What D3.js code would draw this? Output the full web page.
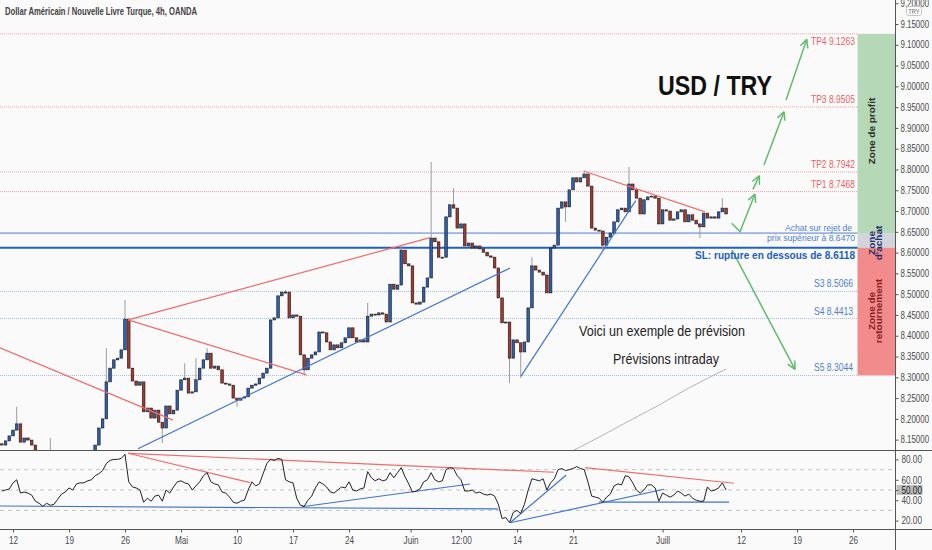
<!DOCTYPE html>
<html lang="fr">
<head>
<meta charset="UTF-8">
<script src="https://d3js.org/d3.v7.min.js"></script>
<title>USD / TRY</title>
<style>
  body { margin: 0; background: #fafafa; }
  text { font-family: "Liberation Sans", Arial, sans-serif; }
</style>
</head>
<body>
<svg id="svg1" width="932" height="550"></svg>
<script>
// 8h bars, 3 per trading day, from Fri 9 Apr to Thu 8 Jul 2021
const firstOpen = 8.140;
const closes = [
  8.137, 8.147, 8.159, 8.173, 8.188, 8.144, 8.154, 8.149, 8.137, 8.120,
  8.106, 8.096, 8.101, 8.113, 8.101, 8.089, 8.082, 8.087, 8.077, 8.082,
  8.089, 8.082, 8.087, 8.096, 8.113, 8.137, 8.178, 8.200, 8.289, 8.322,
  8.342, 8.346, 8.366, 8.440, 8.322, 8.291, 8.281, 8.289, 8.217, 8.226,
  8.202, 8.221, 8.192, 8.178, 8.231, 8.212, 8.221, 8.269, 8.294, 8.298,
  8.262, 8.265, 8.294, 8.322, 8.342, 8.358, 8.322, 8.327, 8.318, 8.286,
  8.284, 8.281, 8.250, 8.245, 8.250, 8.253, 8.274, 8.281, 8.284, 8.298,
  8.310, 8.322, 8.438, 8.443, 8.496, 8.505, 8.505, 8.443, 8.450, 8.447,
  8.354, 8.318, 8.346, 8.354, 8.361, 8.409, 8.407, 8.385, 8.366, 8.378,
  8.371, 8.383, 8.395, 8.419, 8.395, 8.385, 8.390, 8.385, 8.447, 8.452,
  8.450, 8.455, 8.452, 8.433, 8.524, 8.512, 8.522, 8.606, 8.573, 8.568,
  8.479, 8.476, 8.481, 8.517, 8.539, 8.635, 8.626, 8.589, 8.589, 8.686,
  8.715, 8.707, 8.659, 8.669, 8.616, 8.623, 8.611, 8.616, 8.609, 8.601,
  8.592, 8.589, 8.563, 8.491, 8.431, 8.433, 8.346, 8.390, 8.383, 8.361,
  8.385, 8.467, 8.568, 8.558, 8.553, 8.546, 8.503, 8.611, 8.618, 8.707,
  8.722, 8.710, 8.751, 8.780, 8.770, 8.780, 8.789, 8.760, 8.659, 8.654,
  8.652, 8.618, 8.637, 8.647, 8.674, 8.703, 8.707, 8.698, 8.765, 8.751,
  8.731, 8.693, 8.727, 8.734, 8.736, 8.731, 8.669, 8.703, 8.700, 8.678,
  8.681, 8.698, 8.703, 8.674, 8.691, 8.678, 8.669, 8.662, 8.695, 8.683,
  8.686, 8.683, 8.698, 8.707, 8.693
];
// [bar index, price]
const wickHighs = [[4, 8.229], [13, 8.154], [28, 8.370], [33, 8.486], [49, 8.334], [52, 8.346],
  [55, 8.370], [76, 8.510], [98, 8.479], [107, 8.618], [115, 8.818], [121, 8.755], [142, 8.589],
  [156, 8.799], [168, 8.806], [193, 8.731]];
const wickLows = [[43, 8.142], [63, 8.229], [81, 8.305], [136, 8.286], [139, 8.298], [151, 8.674],
  [161, 8.606], [187, 8.635]];
// slow moving average (grey), [bar index, price]
const maPoints = [[148, 8.100], [152, 8.119], [160, 8.156], [168, 8.195], [176, 8.233], [184, 8.274], [194, 8.320]];

const rsiValues = [
  49, 50, 51, 57, 60, 47, 48, 47, 45, 39,
  37, 34, 37, 35, 36, 41, 46, 48, 52, 50,
  56, 57, 57, 59, 60, 64, 66, 69, 76, 79,
  80, 80, 81, 85, 58, 53, 52, 50, 38, 42,
  39, 44, 45, 39, 50, 47, 53, 58, 59, 57,
  56, 50, 54, 58, 64, 67, 58, 56, 55, 48,
  47, 43, 38, 37, 39, 40, 50, 58, 54, 56,
  66, 76, 80, 79, 81, 80, 60, 58, 57, 42,
  35, 34, 40, 44, 52, 58, 56, 53, 48, 47,
  50, 53, 52, 58, 50, 49, 51, 52, 68, 62,
  59, 61, 59, 60, 67, 62, 67, 72, 63, 56,
  48, 49, 51, 58, 60, 67, 60, 58, 59, 70,
  72, 71, 64, 60, 49, 49, 50, 47, 48, 46,
  45, 46, 44, 36, 22, 23, 18, 28, 30, 27,
  36, 50, 61, 60, 59, 61, 50, 57, 61, 70,
  71, 69, 70, 71, 73, 71, 70, 58, 44, 43,
  42, 38, 43, 46, 54, 56, 55, 64, 63, 57,
  50, 47, 50, 55, 55, 52, 39, 47, 45, 43,
  45, 49, 47, 44, 46, 42, 40, 39, 39, 53,
  49, 50, 52, 57, 50
];

const tpPrices = [9.1263, 8.9505, 8.7942, 8.7468];
const tpLabels = ["TP4 9.1263", "TP3 8.9505", "TP2 8.7942", "TP1 8.7468"];
const supportPrices = [8.5066, 8.4413, 8.3044];
const supportLabels = ["S3 8.5066", "S4 8.4413", "S5 8.3044"];
const entryPrice = 8.6470;
const stopPrice = 8.6118;

const priceTicks = [8.15, 8.20, 8.25, 8.30, 8.35, 8.40, 8.45, 8.50, 8.55, 8.60, 8.65, 8.70, 8.75,
  8.80, 8.85, 8.90, 8.95, 9.00, 9.05, 9.10, 9.15, 9.20];
const rsiTicks = [20, 40, 50, 60, 80];
const rsiBands = [70, 50, 30];
// trading day index (0 = 9 Apr)
const dayTicks = [1, 6, 11, 16, 21, 26, 31, 36.5, 41, 46, 51, 59, 66, 71, 76];
const dayLabels = ["12", "19", "26", "Mai", "10", "17", "24", "Juin", "12:00", "14", "21", "Juill", "12", "19", "26"];

// drawings, points as [trading day, price] or [trading day, rsi]
const redLines = [[[-0.16, 8.371], [15.29, 8.197]], [[11.27, 8.438], [38.23, 8.636]],
  [[11.27, 8.438], [27.21, 8.306]], [[52.07, 8.795], [62.79, 8.698]]];
const blueLines = [[[12.16, 8.128], [45.38, 8.563]], [[46.36, 8.303], [56.6, 8.725]]];
const rsiRedLines = [[[11.27, 86], [49.3, 67.4]], [[11.27, 86], [22.16, 57.2]], [[52.07, 71.9], [65.38, 56.6]]];
const rsiBlueLines = [[[-0.16, 34.3], [44.3, 31.4]], [[26.8, 33.6], [41.8, 55.9]], [[45.38, 17.9], [50.4, 64.7]],
  [[45.38, 17.9], [59.13, 50.7]], [[53.32, 38.2], [64.93, 38.2]]];
const arrows = [
  [[65.17, 8.6705], [65.91, 8.6503], [67.25, 8.741]],
  [[67.07, 8.752], [67.63, 8.785]],
  [[68.05, 8.811], [69.84, 8.939]],
  [[70.02, 8.967], [71.87, 9.113]],
  [[65.2, 8.606], [70.82, 8.319]]
];

const svg = d3.select("#svg1");
const axisX = 895.5;
const zoneX0 = 857.5;
const mainBottom = 450.5;
const rsiBottom = 529.5;

const x = d3.scaleLinear().domain([0, 79.75]).range([1.8, 895]);
const y = d3.scaleLinear().domain([8.30, 9.15]).range([377.3, 24]);
const yR = d3.scaleLinear().domain([20, 80]).range([520.6, 459.4]);
const barX = j => x(j / 3);

function narrow(sel, factor = 0.82) {
  sel.each(function () {
    const w = this.getComputedTextLength();
    d3.select(this).attr("textLength", w * factor).attr("lengthAdjust", "spacingAndGlyphs");
  });
}

function label(g, px, py, str, opt) {
  const t = g.append("text").attr("x", px).attr("y", py).text(str)
    .attr("font-size", opt.size).attr("fill", opt.color)
    .attr("font-weight", opt.weight || "normal")
    .attr("text-anchor", opt.anchor || "start");
  if (opt.width) t.attr("textLength", opt.width).attr("lengthAdjust", "spacingAndGlyphs");
  else narrow(t);
  return t;
}

svg.append("rect").attr("width", 932).attr("height", 550).attr("fill", "#fafafa");

const defs = svg.append("defs");
defs.append("clipPath").attr("id", "clipMain").append("rect")
  .attr("x", 0).attr("y", 0).attr("width", axisX).attr("height", mainBottom);
defs.append("clipPath").attr("id", "clipRsi").append("rect")
  .attr("x", 0).attr("y", mainBottom).attr("width", axisX).attr("height", rsiBottom - mainBottom);

const main = svg.append("g").attr("clip-path", "url(#clipMain)");

// zones on the right
const zones = [[tpPrices[0], entryPrice, "#b5d8b6"], [entryPrice, stopPrice, "#d1d4dc"], [stopPrice, supportPrices[2], "#f28c8c"]];
zones.forEach(z => {
  main.append("rect").attr("x", zoneX0).attr("width", axisX - zoneX0)
    .attr("y", y(z[0])).attr("height", y(z[1]) - y(z[0])).attr("fill", z[2]);
});

// level lines
tpPrices.forEach(p => {
  main.append("line").attr("x1", 0).attr("x2", zoneX0).attr("y1", y(p)).attr("y2", y(p))
    .attr("stroke", "#f3a0a0").attr("stroke-dasharray", "1,1");
});
supportPrices.forEach(p => {
  main.append("line").attr("x1", 0).attr("x2", zoneX0).attr("y1", y(p)).attr("y2", y(p))
    .attr("stroke", "#a3bde6").attr("stroke-dasharray", "1,1");
});
main.append("line").attr("x1", 0).attr("x2", zoneX0).attr("y1", y(entryPrice)).attr("y2", y(entryPrice))
  .attr("stroke", "#4f7fd0").attr("stroke-width", 1);
main.append("line").attr("x1", 0).attr("x2", zoneX0).attr("y1", y(stopPrice)).attr("y2", y(stopPrice))
  .attr("stroke", "#1f5fc8").attr("stroke-width", 2);

// moving average
main.append("path").datum(maPoints)
  .attr("fill", "none").attr("stroke", "#b4b4b4").attr("stroke-width", 1)
  .attr("d", d3.line().x(d => barX(d[0])).y(d => y(d[1])).curve(d3.curveMonotoneX));

// candles
const opens = closes.map((c, j) => j ? closes[j - 1] : firstOpen);
wickHighs.forEach(([j, p]) => {
  main.append("line").attr("x1", barX(j)).attr("x2", barX(j))
    .attr("y1", y(Math.max(opens[j], closes[j]))).attr("y2", y(p))
    .attr("stroke", "#9c9c9c").attr("stroke-width", 1);
});
wickLows.forEach(([j, p]) => {
  main.append("line").attr("x1", barX(j)).attr("x2", barX(j))
    .attr("y1", y(Math.min(opens[j], closes[j]))).attr("y2", y(p))
    .attr("stroke", "#9c9c9c").attr("stroke-width", 1);
});
closes.forEach((c, j) => {
  const o = opens[j];
  const top = y(Math.max(o, c));
  const h = Math.max(1, Math.abs(y(o) - y(c)));
  main.append("rect")
    .attr("x", barX(j) - 1.3).attr("width", 2.6)
    .attr("y", top).attr("height", h)
    .attr("fill", c >= o ? "#2f5fb3" : "#a8382e")
    .attr("stroke", "#151515").attr("stroke-width", 0.6);
});

// trend lines
redLines.forEach(l => {
  main.append("line").attr("x1", x(l[0][0])).attr("y1", y(l[0][1])).attr("x2", x(l[1][0])).attr("y2", y(l[1][1]))
    .attr("stroke", "#f26b6b").attr("stroke-width", 1.2);
});
blueLines.forEach(l => {
  main.append("line").attr("x1", x(l[0][0])).attr("y1", y(l[0][1])).attr("x2", x(l[1][0])).attr("y2", y(l[1][1]))
    .attr("stroke", "#3f73d1").attr("stroke-width", 1.2);
});

// green arrows
arrows.forEach(a => {
  const pts = a.map(d => [x(d[0]), y(d[1])]);
  main.append("path").attr("d", d3.line()(pts))
    .attr("fill", "none").attr("stroke", "#62bb6c").attr("stroke-width", 1.5);
  const [x1, y1] = pts[pts.length - 2];
  const [x2, y2] = pts[pts.length - 1];
  const ang = Math.atan2(y2 - y1, x2 - x1);
  [-0.45, 0.45].forEach(da => {
    main.append("line").attr("x1", x2).attr("y1", y2)
      .attr("x2", x2 - 9 * Math.cos(ang + da)).attr("y2", y2 - 9 * Math.sin(ang + da))
      .attr("stroke", "#62bb6c").attr("stroke-width", 1.5);
  });
});

// level texts
tpLabels.forEach((s, i) => {
  label(main, 855, i === 0 ? y(tpPrices[i]) + 11.5 : y(tpPrices[i]) - 4, s, { size: 11.5, color: "#ef5f5f", anchor: "end", width: 44 });
});
supportLabels.forEach((s, i) => {
  label(main, 853, y(supportPrices[i]) - 4, s, { size: 11.5, color: "#4f7fd0", anchor: "end", width: 39 });
});
label(main, 852, y(entryPrice) - 1.8, "Achat sur rejet de", { size: 9.5, color: "#4f7fd0", anchor: "end", width: 67 });
label(main, 855, y(entryPrice) + 7.6, "prix supérieur à 8.6470", { size: 9.5, color: "#4f7fd0", anchor: "end", width: 88 });
label(main, 855, y(stopPrice) + 11, "SL: rupture en dessous de 8.6118", { size: 11, color: "#1a5fc4", anchor: "end", weight: "bold", width: 160 });

label(main, 658, 95, "USD / TRY", { size: 28, color: "#111", weight: "bold", width: 114 });
label(main, 579, 336, "Voici un exemple de prévision", { size: 15, color: "#222", width: 166 });
label(main, 613, 364, "Prévisions intraday", { size: 15, color: "#222", width: 106 });

// rotated zone captions
function vLabel(cx, cy, lines, color) {
  const g = svg.append("g").attr("transform", `translate(${cx},${cy}) rotate(-90) scale(1,0.82)`);
  lines.forEach((s, i) => {
    g.append("text").attr("x", 0).attr("y", 3.6 + (i - (lines.length - 1) / 2) * 9.3)
      .attr("text-anchor", "middle").attr("font-size", 10).attr("font-weight", "bold")
      .attr("fill", color).text(s);
  });
}
vLabel(872.5, 131, ["Zone de profit"], "#2b2b2b");
vLabel(875.5, 243, ["Zone", "d'achat"], "#1d2f66");
vLabel(875.5, 311, ["Zone de", "retournement"], "#8a1c1c");

// RSI pane
const rsiG = svg.append("g").attr("clip-path", "url(#clipRsi)");
rsiBands.forEach(v => {
  rsiG.append("line").attr("x1", 0).attr("x2", axisX).attr("y1", yR(v)).attr("y2", yR(v))
    .attr("stroke", "#c4c4c4").attr("stroke-dasharray", "4,4");
});
rsiRedLines.forEach(l => {
  rsiG.append("line").attr("x1", x(l[0][0])).attr("y1", yR(l[0][1])).attr("x2", x(l[1][0])).attr("y2", yR(l[1][1]))
    .attr("stroke", "#f26b6b").attr("stroke-width", 1.2);
});
rsiBlueLines.forEach(l => {
  rsiG.append("line").attr("x1", x(l[0][0])).attr("y1", yR(l[0][1])).attr("x2", x(l[1][0])).attr("y2", yR(l[1][1]))
    .attr("stroke", "#3f73d1").attr("stroke-width", 1.2);
});
rsiG.append("path").datum(rsiValues)
  .attr("fill", "none").attr("stroke", "#222").attr("stroke-width", 1)
  .attr("d", d3.line().x((d, i) => barX(i)).y(d => yR(d)));

// frame lines
svg.append("line").attr("x1", 0).attr("x2", 932).attr("y1", mainBottom).attr("y2", mainBottom).attr("stroke", "#555");
svg.append("line").attr("x1", 0).attr("x2", 932).attr("y1", rsiBottom).attr("y2", rsiBottom).attr("stroke", "#555");
svg.append("line").attr("x1", axisX).attr("x2", axisX).attr("y1", 0).attr("y2", 550).attr("stroke", "#555");

// axes (right labels squeezed with a transform so they fit the strip)
svg.append("g").attr("transform", `translate(${axisX},0)`)
  .call(d3.axisRight(y).tickValues(priceTicks).tickFormat(d3.format(".5f")).tickSize(3))
  .call(g => g.select(".domain").remove())
  .call(g => g.selectAll("line").attr("stroke", "#555"))
  .call(g => g.selectAll("text").attr("fill", "#4a4a4a").attr("font-size", 10)
    .attr("x", 0).attr("transform", "translate(5,0) scale(0.79,1)"));

svg.append("rect").attr("x", 896.5).attr("y", yR(50) - 5).attr("width", 26).attr("height", 10).attr("fill", "#bdbdbd");
svg.append("g").attr("transform", `translate(${axisX},0)`)
  .call(d3.axisRight(yR).tickValues(rsiTicks).tickFormat(d3.format(".2f")).tickSize(3))
  .call(g => g.select(".domain").remove())
  .call(g => g.selectAll("line").attr("stroke", "#555"))
  .call(g => g.selectAll("text").attr("fill", d => d === 50 ? "#1a1a1a" : "#4a4a4a").attr("font-size", 10)
    .attr("x", 0).attr("transform", "translate(6,0) scale(0.82,1)"));

svg.append("g").attr("transform", `translate(0,${rsiBottom})`)
  .call(d3.axisBottom(x).tickValues(dayTicks).tickFormat((d, i) => dayLabels[i]).tickSize(3).tickPadding(4))
  .call(g => g.select(".domain").remove())
  .call(g => g.selectAll("line").attr("stroke", "#555"))
  .call(g => g.selectAll("text").attr("fill", "#4a4a4a").attr("font-size", 10).call(narrow));

// currency badge
svg.append("rect").attr("x", 906.5).attr("y", 6.5).attr("width", 15).attr("height", 9).attr("rx", 2)
  .attr("fill", "#fff").attr("stroke", "#c2c2c2");
label(svg, 914, 13.5, "TRY", { size: 7, color: "#666", anchor: "middle" });

// header
label(svg, 5, 15, "Dollar Américain / Nouvelle Livre Turque, 4h, OANDA", { size: 11, color: "#444", weight: "bold", width: 192 });
</script>
</body>
</html>
